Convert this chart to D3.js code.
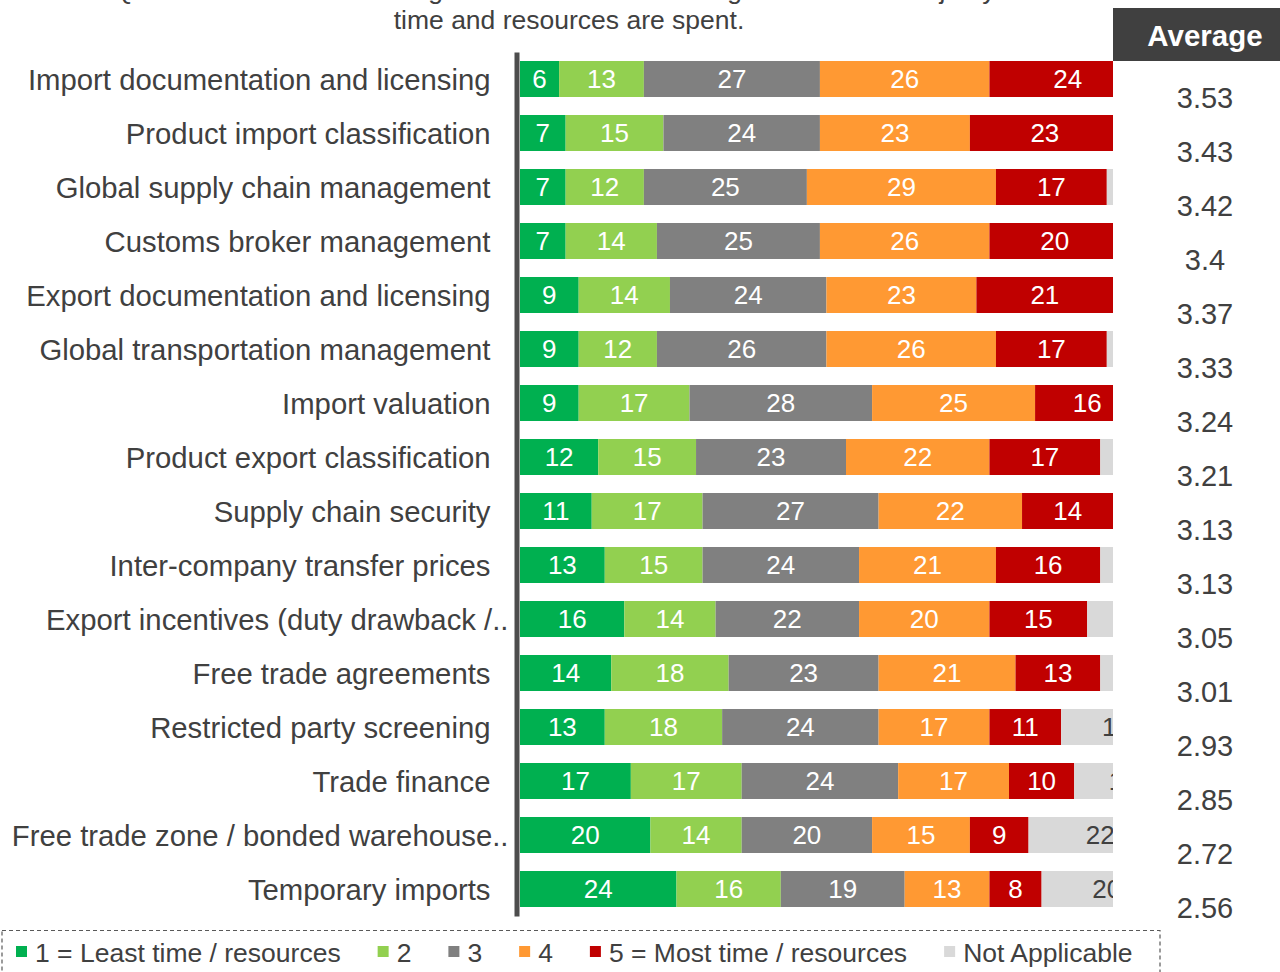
<!DOCTYPE html>
<html>
<head>
<meta charset="utf-8">
<script src="https://cdn.jsdelivr.net/npm/d3@7"></script>
<style>
  html, body { margin: 0; padding: 0; background: #fff; }
  svg { display: block; font-family: "Liberation Sans", Arial, sans-serif; }
</style>
</head>
<body>
<svg id="chart" width="1280" height="972"></svg>
<script>
// categories, top to bottom
var categories = [
    "Import documentation and licensing",
    "Product import classification",
    "Global supply chain management",
    "Customs broker management",
    "Export documentation and licensing",
    "Global transportation management",
    "Import valuation",
    "Product export classification",
    "Supply chain security",
    "Inter-company transfer prices",
    "Export incentives (duty drawback /..",
    "Free trade agreements",
    "Restricted party screening",
    "Trade finance",
    "Free trade zone / bonded warehouse..",
    "Temporary imports"
];

var rank1 = [6, 7, 7, 7, 9, 9, 9, 12, 11, 13, 16, 14, 13, 17, 20, 24];
var rank2 = [13, 15, 12, 14, 14, 12, 17, 15, 17, 15, 14, 18, 18, 17, 14, 16];
var rank3 = [27, 24, 25, 25, 24, 26, 28, 23, 27, 24, 22, 23, 24, 24, 20, 19];
var rank4 = [26, 23, 29, 26, 23, 26, 25, 22, 22, 21, 20, 21, 17, 17, 15, 13];
var rank5 = [24, 23, 17, 20, 21, 17, 16, 17, 14, 16, 15, 13, 11, 10, 9, 8];
var notApplicable = [4, 8, 10, 8, 9, 10, 5, 11, 9, 11, 13, 11, 17, 15, 22, 20];

var averages = [3.53, 3.43, 3.42, 3.4, 3.37, 3.33, 3.24, 3.21, 3.13, 3.13, 3.05, 3.01, 2.93, 2.85, 2.72, 2.56];

var seriesNames = ["1 = Least time / resources", "2", "3", "4", "5 = Most time / resources", "Not Applicable"];
var seriesColors = ["#00b050", "#92d050", "#808080", "#ff9933", "#c00000", "#d9d9d9"];

var titleLines = [
    "Q: Please rank the following trade activities according to where the majority of",
    "time and resources are spent."
];

var svg = d3.select("#chart");
var textColor = "#404040";

// build rows for the stack
var seriesData = [rank1, rank2, rank3, rank4, rank5, notApplicable];
var rows = categories.map(function (c, i) {
    var r = { category: c };
    seriesNames.forEach(function (s, k) { r[s] = seriesData[k][i]; });
    return r;
});
var stacked = d3.stack().keys(seriesNames)(rows);

var x = d3.scaleLinear().domain([0, 100]).range([520, 1172]);
var y = d3.scaleBand().domain(categories).range([52, 916])
    .paddingInner(1 / 3).paddingOuter(1 / 6);
var color = d3.scaleOrdinal().domain(seriesNames).range(seriesColors);

var clipRight = 1113;

// title (first line runs off the top, as in the source slide)
svg.append("g").selectAll("text")
    .data(titleLines)
    .join("text")
    .attr("x", 569)
    .attr("y", function (d, i) { return -1 + i * 30; })
    .attr("text-anchor", "middle")
    .attr("fill", textColor)
    .style("font-size", "26.5px")
    .text(function (d) { return d; });

svg.append("clipPath").attr("id", "plotClip")
    .append("rect")
    .attr("x", x(0)).attr("y", 0)
    .attr("width", clipRight - x(0)).attr("height", 972);

var plot = svg.append("g").attr("clip-path", "url(#plotClip)");

var layers = plot.selectAll("g.layer")
    .data(stacked)
    .join("g")
    .attr("class", "layer")
    .attr("fill", function (d) { return color(d.key); });

layers.selectAll("rect")
    .data(function (d) { return d; })
    .join("rect")
    .attr("x", function (d) { return x(d[0]); })
    .attr("y", function (d) { return y(d.data.category); })
    .attr("width", function (d) { return x(d[1]) - x(d[0]); })
    .attr("height", y.bandwidth());

layers.selectAll("text")
    .data(function (d) { return d.map(function (v) { v.key = d.key; return v; }); })
    .join("text")
    .attr("x", function (d) { return (x(d[0]) + x(d[1])) / 2; })
    .attr("y", function (d) { return y(d.data.category) + y.bandwidth() / 2; })
    .attr("dy", "0.36em")
    .attr("text-anchor", "middle")
    .attr("fill", function (d) { return d.key === "Not Applicable" ? textColor : "#fff"; })
    .style("font-size", "26px")
    .text(function (d) { return d[1] - d[0]; });

// category axis
var yAxis = svg.append("g")
    .attr("transform", "translate(516.5,0)")
    .call(d3.axisLeft(y).tickSize(0).tickPadding(26));

yAxis.select(".domain")
    .attr("stroke", "#4d4d4d")
    .attr("stroke-width", 5);

yAxis.selectAll(".tick text")
    .attr("fill", textColor)
    .attr("dy", "0.36em")
    .attr("dx", function (d) { return d.slice(-2) === ".." ? 18 : 0; })
    .style("font-size", "29.3px")
    .style("font-family", "'Liberation Sans', Arial, sans-serif");

// average column
svg.append("rect")
    .attr("x", clipRight).attr("y", 8)
    .attr("width", 1280 - clipRight).attr("height", 53)
    .attr("fill", "#404040");

svg.append("text")
    .attr("x", 1205).attr("y", 35)
    .attr("dy", "0.36em")
    .attr("text-anchor", "middle")
    .attr("fill", "#fff")
    .style("font-size", "29.5px")
    .style("font-weight", "bold")
    .text("Average");

svg.append("g").selectAll("text")
    .data(averages)
    .join("text")
    .attr("x", 1205)
    .attr("y", function (d, i) { return y(categories[i]) + y.bandwidth() / 2 + 19; })
    .attr("dy", "0.36em")
    .attr("text-anchor", "middle")
    .attr("fill", textColor)
    .style("font-size", "29px")
    .text(function (d) { return d; });

// legend
svg.append("rect")
    .attr("x", 2).attr("y", 930.5)
    .attr("width", 1158).attr("height", 80)
    .attr("fill", "none")
    .attr("stroke", "#595959")
    .attr("stroke-width", 1.2)
    .attr("stroke-dasharray", "4,3");

var legend = svg.append("g");
var lx = 16;
seriesNames.forEach(function (name) {
    legend.append("rect")
        .attr("x", lx).attr("y", 946)
        .attr("width", 11).attr("height", 11)
        .attr("fill", color(name));
    var t = legend.append("text")
        .attr("x", lx + 19).attr("y", 952)
        .attr("dy", "0.36em")
        .attr("fill", textColor)
        .style("font-size", "26.5px")
        .text(name);
    lx += 19 + t.node().getComputedTextLength() + 37;
});
</script>
</body>
</html>
